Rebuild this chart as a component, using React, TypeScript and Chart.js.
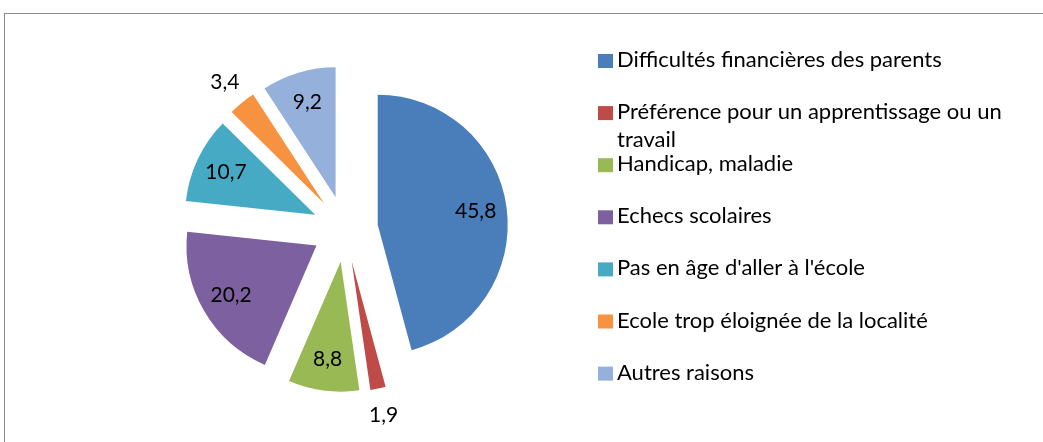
import React, { useEffect, useRef } from "react";
import { Chart, registerables } from "chart.js";

Chart.register(...registerables);

// ---- Data ----
const categories: string[] = [
  "Difficultés financières des parents",
  "Préférence pour un apprentissage ou un travail",
  "Handicap, maladie",
  "Echecs scolaires",
  "Pas en âge d'aller à l'école",
  "Ecole trop éloignée de la localité",
  "Autres raisons",
];
const values: number[] = [45.8, 1.9, 8.8, 20.2, 10.7, 3.4, 9.2];
const colors: string[] = [
  "#4A7EBB",
  "#BE4B48",
  "#98B954",
  "#7D60A0",
  "#46AAC5",
  "#F69240",
  "#95B0DA",
];

// ---- Styling constants ----
const FONT = "Lato, 'Liberation Sans', sans-serif";
const LABEL_SIZE = 21;
const LEGEND_SIZE = 22;
const EXPLODE = 33;
const OUTSIDE_THRESHOLD = 5;

const fmt = (v: number) => v.toFixed(1).replace(".", ",");

const explodePlugin = {
  id: "explodePie",
  afterDatasetsUpdate(chart: any) {
    const meta = chart.getDatasetMeta(0);
    meta.data.forEach((arc: any) => {
      const mid = (arc.startAngle + arc.endAngle) / 2;
      arc.x += Math.cos(mid) * EXPLODE;
      arc.y += Math.sin(mid) * EXPLODE;
    });
  },
};

const valueLabelPlugin = {
  id: "valueLabels",
  afterDatasetsDraw(chart: any) {
    const ctx = chart.ctx;
    const meta = chart.getDatasetMeta(0);
    const data = chart.data.datasets[0].data as number[];
    ctx.save();
    ctx.font = `${LABEL_SIZE}px ${FONT}`;
    ctx.fillStyle = "#000";
    ctx.textAlign = "center";
    ctx.textBaseline = "middle";
    meta.data.forEach((arc: any, i: number) => {
      const mid = (arc.startAngle + arc.endAngle) / 2;
      const r = arc.outerRadius;
      const v = data[i];
      const dist = v < OUTSIDE_THRESHOLD ? r + 27 : r * 0.76;
      const x = arc.x + Math.cos(mid) * dist;
      const y = arc.y + Math.sin(mid) * dist;
      ctx.fillText(fmt(v), x, y);
    });
    ctx.restore();
  },
};

const legendPlugin = {
  id: "sideLegend",
  afterDraw(chart: any) {
    const ctx = chart.ctx;
    const labels = chart.data.labels as string[];
    const bg = chart.data.datasets[0].backgroundColor as string[];
    const boxX = 598;
    const top0 = 54;
    const step = 52.1;
    const box = 14;
    const textX = 617;
    const lineH = 28;
    const maxW = 400;
    ctx.save();
    ctx.font = `${LEGEND_SIZE}px ${FONT}`;
    ctx.textAlign = "left";
    ctx.textBaseline = "middle";
    labels.forEach((label, i) => {
      const top = top0 + i * step;
      ctx.fillStyle = bg[i];
      ctx.fillRect(boxX, top, box + 1, box);
      // wrap text
      const words = label.split(" ");
      const lines: string[] = [];
      let cur = "";
      words.forEach((w) => {
        const test = cur ? cur + " " + w : w;
        if (cur && ctx.measureText(test).width > maxW) {
          lines.push(cur);
          cur = w;
        } else {
          cur = test;
        }
      });
      if (cur) lines.push(cur);
      ctx.fillStyle = "#000";
      lines.forEach((ln, k) => {
        ctx.fillText(ln, textX, top + box / 2 - 1 + k * lineH);
      });
    });
    ctx.restore();
  },
};

export default function App() {
  const canvasRef = useRef<HTMLCanvasElement | null>(null);

  useEffect(() => {
    if (!canvasRef.current) return;
    const chart = new Chart(canvasRef.current, {
      type: "pie",
      data: {
        labels: categories,
        datasets: [
          {
            data: values,
            backgroundColor: colors,
            borderWidth: 0,
          },
        ],
      },
      options: {
        responsive: false,
        animation: false,
        events: [],
        radius: 130,
        layout: {
          padding: { left: 150, right: 503, top: 40, bottom: 24 },
        },
        plugins: {
          legend: { display: false },
          tooltip: { enabled: false },
        },
      } as any,
      plugins: [explodePlugin, valueLabelPlugin, legendPlugin],
    });
    return () => chart.destroy();
  }, []);

  return (
    <div
      style={{
        position: "fixed",
        left: 0,
        top: 0,
        width: 1043,
        height: 442,
        overflow: "hidden",
        background: "#fff",
      }}
    >
      <div
        style={{
          position: "absolute",
          left: 4,
          top: 13,
          width: 1100,
          height: 500,
          border: "1px solid #8c8c8c",
          boxSizing: "border-box",
        }}
      />
      <canvas
        ref={canvasRef}
        width={1043}
        height={442}
        style={{ position: "absolute", left: 0, top: 0, display: "block" }}
      />
    </div>
  );
}
